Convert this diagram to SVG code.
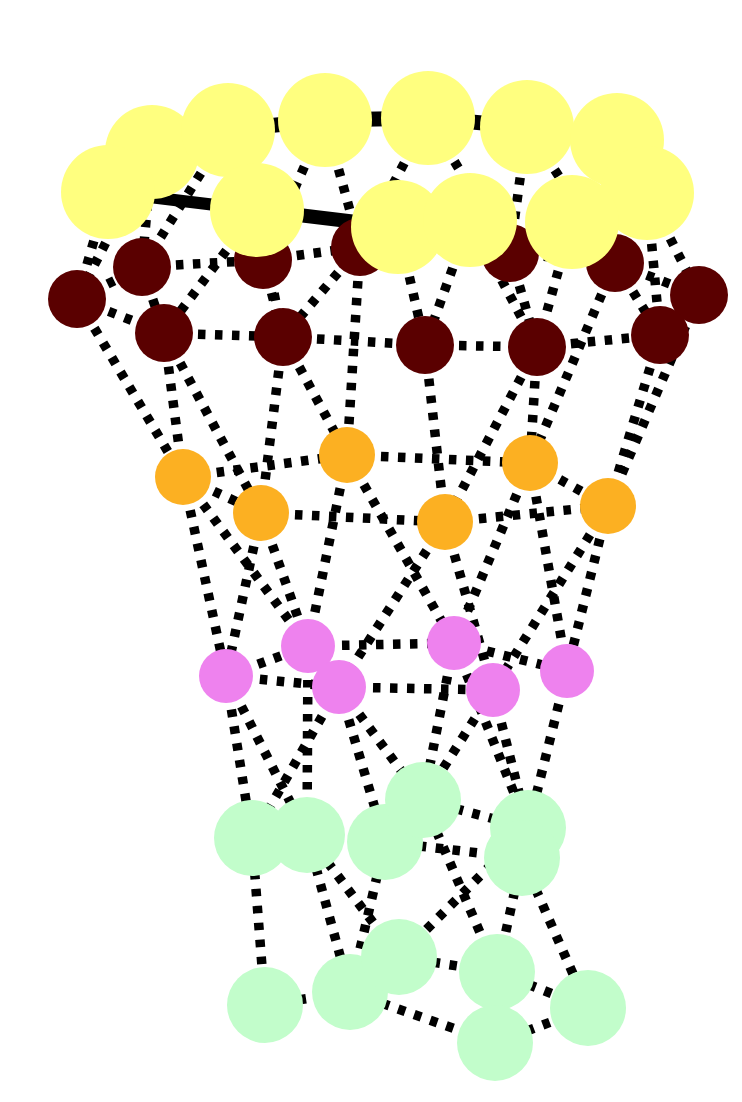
<svg xmlns="http://www.w3.org/2000/svg" width="742" height="1102" viewBox="0 0 742 1102">
<style>
.e{stroke:#000;stroke-width:9.5;stroke-dasharray:7.5 9.5;fill:none}
.s{stroke:#000;fill:none}
.y{fill:#ffff7f}
.d{fill:#5a0000}
.o{fill:#fcb022}
.p{fill:#ee82ee}
.g{fill:#c2fdcb}
</style>
<rect width="742" height="1102" fill="#fff"/>
<g id="edges">
<line class="s" stroke-width="15" x1="228" y1="130" x2="325" y2="120"/>
<line class="s" stroke-width="15" x1="325" y1="120" x2="428" y2="118"/>
<line class="s" stroke-width="15" x1="428" y1="118" x2="527" y2="127"/>
<line class="s" stroke-width="12" x1="108" y1="192" x2="257" y2="210"/>
<line class="s" stroke-width="14" x1="257" y1="210" x2="398" y2="227"/>
<line class="e" x1="108" y1="192" x2="77" y2="299"/>
<line class="e" x1="152" y1="152" x2="77" y2="299"/>
<line class="e" x1="152" y1="152" x2="142" y2="267"/>
<line class="e" x1="228" y1="130" x2="142" y2="267"/>
<line class="e" x1="257" y1="210" x2="164" y2="333"/>
<line class="e" x1="257" y1="210" x2="283" y2="337"/>
<line class="e" x1="325" y1="120" x2="263" y2="260"/>
<line class="e" x1="325" y1="120" x2="360" y2="247"/>
<line class="e" x1="428" y1="118" x2="360" y2="247"/>
<line class="e" x1="428" y1="118" x2="510" y2="253"/>
<line class="e" x1="527" y1="127" x2="510" y2="253"/>
<line class="e" x1="527" y1="127" x2="615" y2="263"/>
<line class="e" x1="647" y1="193" x2="699" y2="295"/>
<line class="e" x1="647" y1="193" x2="660" y2="335"/>
<line class="e" x1="398" y1="227" x2="425" y2="345"/>
<line class="e" x1="470" y1="220" x2="425" y2="345"/>
<line class="e" x1="470" y1="220" x2="537" y2="347"/>
<line class="e" x1="572" y1="222" x2="537" y2="347"/>
<line class="e" x1="77" y1="299" x2="142" y2="267"/>
<line class="e" x1="77" y1="299" x2="164" y2="333"/>
<line class="e" x1="142" y1="267" x2="164" y2="333"/>
<line class="e" x1="142" y1="267" x2="263" y2="260"/>
<line class="e" x1="164" y1="333" x2="283" y2="337"/>
<line class="e" x1="263" y1="260" x2="283" y2="337"/>
<line class="e" x1="263" y1="260" x2="360" y2="247"/>
<line class="e" x1="360" y1="247" x2="283" y2="337"/>
<line class="e" x1="283" y1="337" x2="425" y2="345"/>
<line class="e" x1="360" y1="247" x2="510" y2="253"/>
<line class="e" x1="425" y1="345" x2="537" y2="347"/>
<line class="e" x1="510" y1="253" x2="537" y2="347"/>
<line class="e" x1="537" y1="347" x2="660" y2="335"/>
<line class="e" x1="615" y1="263" x2="660" y2="335"/>
<line class="e" x1="510" y1="253" x2="615" y2="263"/>
<line class="e" x1="615" y1="263" x2="699" y2="295"/>
<line class="e" x1="699" y1="295" x2="660" y2="335"/>
<line class="e" x1="77" y1="299" x2="183" y2="477"/>
<line class="e" x1="164" y1="333" x2="183" y2="477"/>
<line class="e" x1="164" y1="333" x2="261" y2="513"/>
<line class="e" x1="283" y1="337" x2="261" y2="513"/>
<line class="e" x1="283" y1="337" x2="347" y2="455"/>
<line class="e" x1="360" y1="247" x2="347" y2="455"/>
<line class="e" x1="425" y1="345" x2="445" y2="522"/>
<line class="e" x1="537" y1="347" x2="445" y2="522"/>
<line class="e" x1="537" y1="347" x2="530" y2="463"/>
<line class="e" x1="615" y1="263" x2="530" y2="463"/>
<line class="e" x1="660" y1="335" x2="608" y2="506"/>
<line class="e" x1="699" y1="295" x2="608" y2="506"/>
<line class="e" x1="183" y1="477" x2="261" y2="513"/>
<line class="e" x1="183" y1="477" x2="347" y2="455"/>
<line class="e" x1="261" y1="513" x2="445" y2="522"/>
<line class="e" x1="347" y1="455" x2="530" y2="463"/>
<line class="e" x1="445" y1="522" x2="608" y2="506"/>
<line class="e" x1="530" y1="463" x2="608" y2="506"/>
<line class="e" x1="183" y1="477" x2="226" y2="676"/>
<line class="e" x1="183" y1="477" x2="308" y2="646"/>
<line class="e" x1="261" y1="513" x2="226" y2="676"/>
<line class="e" x1="261" y1="513" x2="308" y2="646"/>
<line class="e" x1="347" y1="455" x2="308" y2="646"/>
<line class="e" x1="347" y1="455" x2="454" y2="643"/>
<line class="e" x1="445" y1="522" x2="339" y2="687"/>
<line class="e" x1="445" y1="522" x2="493" y2="690"/>
<line class="e" x1="530" y1="463" x2="454" y2="643"/>
<line class="e" x1="530" y1="463" x2="567" y2="671"/>
<line class="e" x1="608" y1="506" x2="493" y2="690"/>
<line class="e" x1="608" y1="506" x2="567" y2="671"/>
<line class="e" x1="226" y1="676" x2="308" y2="646"/>
<line class="e" x1="226" y1="676" x2="339" y2="687"/>
<line class="e" x1="308" y1="646" x2="454" y2="643"/>
<line class="e" x1="339" y1="687" x2="493" y2="690"/>
<line class="e" x1="454" y1="643" x2="567" y2="671"/>
<line class="e" x1="226" y1="676" x2="252" y2="838"/>
<line class="e" x1="226" y1="676" x2="307" y2="835"/>
<line class="e" x1="308" y1="646" x2="307" y2="835"/>
<line class="e" x1="339" y1="687" x2="252" y2="838"/>
<line class="e" x1="339" y1="687" x2="385" y2="842"/>
<line class="e" x1="339" y1="687" x2="423" y2="800"/>
<line class="e" x1="454" y1="643" x2="423" y2="800"/>
<line class="e" x1="493" y1="690" x2="423" y2="800"/>
<line class="e" x1="493" y1="690" x2="528" y2="828"/>
<line class="e" x1="454" y1="643" x2="528" y2="828"/>
<line class="e" x1="567" y1="671" x2="528" y2="828"/>
<line class="e" x1="252" y1="838" x2="265" y2="1005"/>
<line class="e" x1="307" y1="835" x2="350" y2="992"/>
<line class="e" x1="307" y1="835" x2="399" y2="957"/>
<line class="e" x1="385" y1="842" x2="350" y2="992"/>
<line class="e" x1="423" y1="800" x2="528" y2="828"/>
<line class="e" x1="385" y1="842" x2="522" y2="858"/>
<line class="e" x1="528" y1="828" x2="399" y2="957"/>
<line class="e" x1="423" y1="800" x2="497" y2="972"/>
<line class="e" x1="522" y1="858" x2="497" y2="972"/>
<line class="e" x1="522" y1="858" x2="588" y2="1008"/>
<line class="e" x1="399" y1="957" x2="497" y2="972"/>
<line class="e" x1="350" y1="992" x2="495" y2="1043"/>
<line class="e" x1="497" y1="972" x2="588" y2="1008"/>
<line class="e" x1="495" y1="1043" x2="588" y2="1008"/>
<line class="e" x1="265" y1="1005" x2="350" y2="992"/>
</g>
<g id="nodes">
<g id="D1"><circle class="d" cx="77" cy="299" r="29"/></g>
<g id="D2"><circle class="d" cx="142" cy="267" r="29"/></g>
<g id="D3"><circle class="d" cx="164" cy="333" r="29"/></g>
<g id="D4"><circle class="d" cx="263" cy="260" r="29"/></g>
<g id="D5"><circle class="d" cx="283" cy="337" r="29"/></g>
<g id="D6"><circle class="d" cx="360" cy="247" r="29"/></g>
<g id="D7"><circle class="d" cx="510" cy="253" r="29"/></g>
<g id="D8"><circle class="d" cx="615" cy="263" r="29"/></g>
<g id="D9"><circle class="d" cx="699" cy="295" r="29"/></g>
<g id="D10"><circle class="d" cx="660" cy="335" r="29"/></g>
<g id="D11"><circle class="d" cx="425" cy="345" r="29"/></g>
<g id="D12"><circle class="d" cx="537" cy="347" r="29"/></g>
<g id="Y2"><circle class="y" cx="152" cy="152" r="47"/></g>
<g id="Y3"><circle class="y" cx="228" cy="130" r="47"/></g>
<g id="Y4"><circle class="y" cx="325" cy="120" r="47"/></g>
<g id="Y6"><circle class="y" cx="428" cy="118" r="47"/></g>
<g id="Y7"><circle class="y" cx="527" cy="127" r="47"/></g>
<g id="Y8"><circle class="y" cx="617" cy="140" r="47"/></g>
<g id="Y1"><circle class="y" cx="108" cy="192" r="47"/></g>
<g id="Y5"><circle class="y" cx="257" cy="210" r="47"/></g>
<g id="Y9"><circle class="y" cx="647" cy="193" r="47"/></g>
<g id="Y10"><circle class="y" cx="398" cy="227" r="47"/></g>
<g id="Y11"><circle class="y" cx="470" cy="220" r="47"/></g>
<g id="Y12"><circle class="y" cx="572" cy="222" r="47"/></g>
<g id="O1"><circle class="o" cx="183" cy="477" r="28"/></g>
<g id="O2"><circle class="o" cx="261" cy="513" r="28"/></g>
<g id="O3"><circle class="o" cx="347" cy="455" r="28"/></g>
<g id="O4"><circle class="o" cx="445" cy="522" r="28"/></g>
<g id="O5"><circle class="o" cx="530" cy="463" r="28"/></g>
<g id="O6"><circle class="o" cx="608" cy="506" r="28"/></g>
<g id="P1"><circle class="p" cx="226" cy="676" r="27"/></g>
<g id="P2"><circle class="p" cx="308" cy="646" r="27"/></g>
<g id="P3"><circle class="p" cx="339" cy="687" r="27"/></g>
<g id="P4"><circle class="p" cx="454" cy="643" r="27"/></g>
<g id="P5"><circle class="p" cx="493" cy="690" r="27"/></g>
<g id="P6"><circle class="p" cx="567" cy="671" r="27"/></g>
<g id="G1"><circle class="g" cx="252" cy="838" r="38"/></g>
<g id="G2"><circle class="g" cx="307" cy="835" r="38"/></g>
<g id="G3"><circle class="g" cx="385" cy="842" r="38"/></g>
<g id="G4"><circle class="g" cx="423" cy="800" r="38"/></g>
<g id="G5"><circle class="g" cx="528" cy="828" r="38"/></g>
<g id="G6"><circle class="g" cx="522" cy="858" r="38"/></g>
<g id="G7"><circle class="g" cx="265" cy="1005" r="38"/></g>
<g id="G8"><circle class="g" cx="350" cy="992" r="38"/></g>
<g id="G9"><circle class="g" cx="399" cy="957" r="38"/></g>
<g id="G10"><circle class="g" cx="497" cy="972" r="38"/></g>
<g id="G11"><circle class="g" cx="495" cy="1043" r="38"/></g>
<g id="G12"><circle class="g" cx="588" cy="1008" r="38"/></g>
</g>
</svg>
